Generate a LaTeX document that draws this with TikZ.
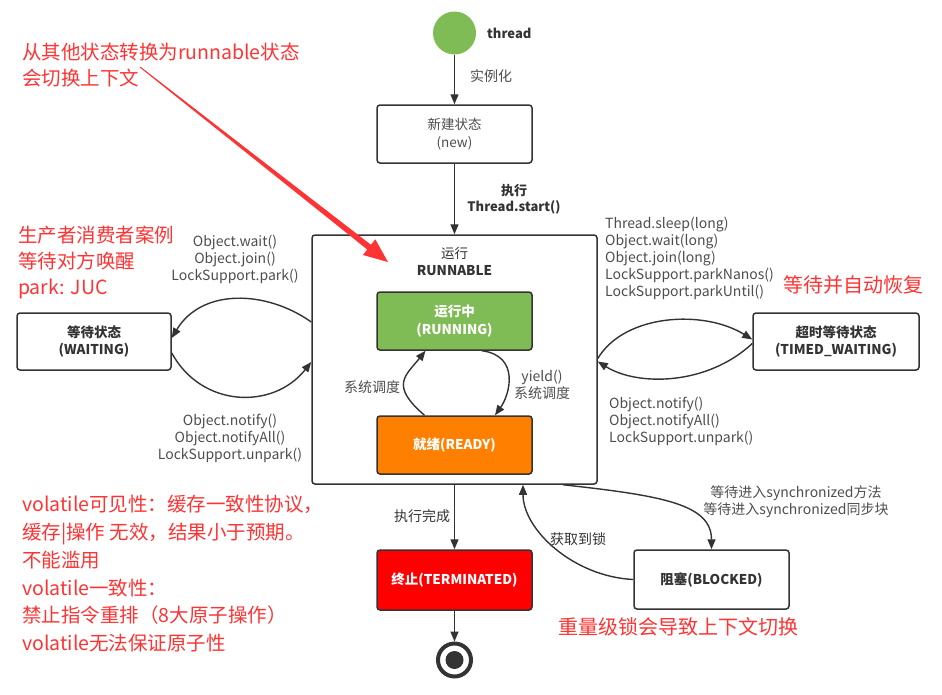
\documentclass[tikz,border=0pt]{standalone}
\usepackage{fontspec}
\setmainfont{Noto Sans CJK SC}
\usetikzlibrary{arrows.meta,calc}
\definecolor{ln}{HTML}{333333}
\definecolor{lbl}{HTML}{4D4D4D}
\definecolor{grn}{HTML}{80BC55}
\definecolor{org}{HTML}{FF8000}
\definecolor{trm}{HTML}{FF0000}
\definecolor{notec}{HTML}{FF3333}
\begin{document}
\begin{tikzpicture}[x=1pt,y=-1pt,
  box/.style={draw=ln,line width=1.5pt,rounded corners=3pt,inner sep=0pt,align=center},
  boldtxt/.style={font=\bfseries\fontsize{13.5}{17}\selectfont},
  plaintxt/.style={font=\fontsize{13.5}{17}\selectfont},
  lab/.style={text=lbl,inner sep=0pt,align=center,font=\fontsize{14}{17}\selectfont},
  labl/.style={text=lbl,inner sep=0pt,align=left,anchor=west,font=\fontsize{14}{17}\selectfont},
  notetxt/.style={text=notec,inner sep=0pt,align=left,anchor=west},
  conn/.style={draw=ln,line width=1.4pt,-{Triangle[length=10pt,width=8pt]}},
]
\useasboundingbox (0,0) rectangle (942,694);

% nodes
\node[circle,fill=grn,minimum size=43pt,inner sep=0pt] (thread) at (454.5,33) {};
\node[text=ln,font=\bfseries\fontsize{13}{17}\selectfont,anchor=west,inner sep=0pt] (threadlbl) at (487,33) {thread};
\node[box,text=lbl,minimum width=155pt,minimum height=58pt,font=\fontsize{13.5}{18}\selectfont] (new) at (454.5,134) {新建状态\\(new)};
\node[box,minimum width=285pt,minimum height=249pt] (run) at (454.5,359.5) {};
\node[text=ln,align=center,inner sep=0pt,plaintxt] (runtitle) at (454.5,261.5) {运行\\\textbf{RUNNABLE}};
\node[box,fill=grn,text=white,font=\bfseries\fontsize{13.5}{18}\selectfont,minimum width=155pt,minimum height=58pt] (running) at (454.5,321) {运行中\\(RUNNING)};
\node[box,fill=org,text=white,boldtxt,minimum width=155pt,minimum height=58pt] (ready) at (454.5,445) {就绪(READY)};
\node[box,text=ln,boldtxt,minimum width=154pt,minimum height=57pt] (waiting) at (94,341.5) {等待状态\\(WAITING)};
\node[box,text=ln,boldtxt,minimum width=166pt,minimum height=57pt] (timed) at (836,341.5) {超时等待状态\\(TIMED\_WAITING)};
\node[box,fill=trm,text=white,boldtxt,minimum width=155pt,minimum height=60pt] (term) at (454.5,580) {终止(TERMINATED)};
\node[box,text=ln,boldtxt,minimum width=155pt,minimum height=59pt] (blocked) at (711.5,579.5) {阻塞(BLOCKED)};
\node[circle,draw=ln,line width=4pt,minimum size=33pt,inner sep=0pt] (endc) at (454.5,660) {};
\node[circle,fill=ln,minimum size=18pt,inner sep=0pt] (endi) at (endc.center) {};

% main vertical connectors
\draw[conn] (thread.south) -- (new.north);
\node[lab] (l1) at (491,76) {实例化};
\draw[conn] (new.south) -- (run.north);
\node[lab,text=ln,font=\bfseries\fontsize{13}{16}\selectfont] (l2) at (514,199.5) {执行\\Thread.start()};
\draw[conn] (run.south) -- (term.north);
\node[lab,text=ln] (l3) at (422,516) {执行完成};
\draw[conn] (term.south) -- (endc.north);

% running <-> ready
\draw[conn] ($(ready.north)+(-30,0)$) .. controls +(-35,-30) and +(-20,25) .. ($(running.south)+(-29,0)$);
\node[lab] (l4) at (372,387) {系统调度};
\draw[conn] ($(running.south)+(27.5,0)$) .. controls +(38,5) and +(15,-21) .. ($(ready.north)+(40.5,0)$);
\node[lab] (l5) at (542,384.5) {yield()\\系统调度};

% waiting
\draw[conn] ($(run.west)+(0,-37.5)$) .. controls +(-45,-32) and +(30,-50) .. ($(waiting.east)+(0,-3.5)$);
\draw[conn] ($(waiting.east)+(0,11.5)$) .. controls +(30,55) and +(-38,48) .. ($(run.west)+(0,2.5)$);
\node[lab] (l6) at (235,259) {Object.wait()\\Object.join()\\LockSupport.park()};
\node[lab] (l7) at (230,438) {Object.notify()\\Object.notifyAll()\\LockSupport.unpark()};

% timed waiting
\draw[conn] ($(run.east)+(0,-1)$) .. controls +(27,-45) and +(-48,-30) .. ($(timed.west)+(0,-2)$);
\draw[conn] ($(timed.west)+(0,2)$) .. controls +(-45,42) and +(40,25) .. ($(run.east)+(0,2)$);
\node[labl] (l8) at (605,258) {Thread.sleep(long)\\Object.wait(long)\\Object.join(long)\\LockSupport.parkNanos()\\LockSupport.parkUntil()};
\node[labl] (l9) at (609,421) {Object.notify()\\Object.notifyAll()\\LockSupport.unpark()};

% blocked
\draw[conn] ($(run.south)+(108.5,0)$) .. controls +(100,11) and +(0,-45) .. (blocked.north);
\draw[conn] (blocked.west) .. controls +(-60,-3) and +(0,45) .. ($(run.south)+(68.5,0)$);
\node[lab] (l10) at (796,501.5) {等待进入synchronized方法\\等待进入synchronized同步块};
\node[lab,text=ln] (l11) at (578,539) {获取到锁};

% red notes
\node[notetxt,font=\fontsize{19.5}{26.6}\selectfont] (n1) at (22,65) {从其他状态转换为runnable状态\\会切换上下文};
\node[notetxt,font=\fontsize{19.5}{26}\selectfont] (n2) at (18,262.5) {生产者消费者案例\\等待对方唤醒\\park: JUC};
\node[notetxt,font=\fontsize{20}{26}\selectfont] (n3) at (783,285) {等待并自动恢复};
\node[notetxt,font=\fontsize{19.5}{27.8}\selectfont] (n4) at (22,573.8) {volatile可见性：缓存一致性协议，\\缓存|操作 无效，结果小于预期。\\不能滥用\\volatile一致性：\\禁止指令重排（8大原子操作）\\volatile无法保证原子性};
\node[notetxt,anchor=center,font=\fontsize{20}{26}\selectfont] (n5) at (678,627) {重量级锁会导致上下文切换};

% red tapered arrow
\coordinate (rs) at (140,67);
\coordinate (rt) at (388,262);
\coordinate (rb) at ($(rt)!24pt!(rs)$);
\fill[notec] ($(rs)!0.5pt!90:(rt)$) -- ($(rb)!3pt!90:(rt)$) -- ($(rb)!10pt!90:(rt)$) -- (rt) -- ($(rb)!10pt!-90:(rt)$) -- ($(rb)!3pt!-90:(rt)$) -- ($(rs)!0.5pt!-90:(rt)$) -- cycle;
\end{tikzpicture}
\end{document}
